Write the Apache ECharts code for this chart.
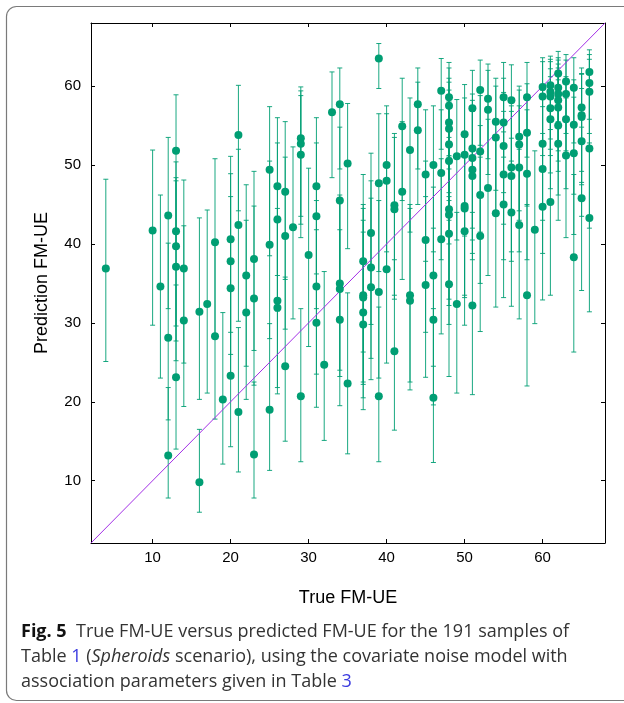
<!DOCTYPE html>
<html>
<head>
<meta charset="utf-8">
<script src="https://cdn.jsdelivr.net/npm/echarts@6/dist/echarts.min.js"></script>
<style>
html,body{margin:0;padding:0;background:#fff;}
#chart{width:624px;height:703px;}
</style>
</head>
<body>
<div id="chart"></div>
<script>
// True FM-UE (x), predicted FM-UE (y), lower and upper ends of the error bars
var trueFM = [
 4,10,11,12,12,12,13,13,13,13,13,14,14,16,16,17,18,18,19,
 20,20,20,20,21,21,21,22,22,23,23,23,25,25,25,26,26,26,26,27,27,27,28,
 29,29,29,29,30,31,31,31,31,32,33,34,34,34,34,34,35,35,
 37,37,37,37,37,38,38,38,39,39,39,39,40,40,40,41,41,41,42,42,43,43,43,44,44,
 45,45,45,46,46,46,46,47,47,47,48,48,48,48,48,48,48,48,48,48,49,49,
 50,50,50,50,50,51,51,51,51,51,51,52,52,52,52,53,53,53,54,54,54,
 55,55,55,55,55,56,56,56,56,57,57,57,57,58,58,58,58,59,
 60,60,60,60,60,61,61,61,61,61,61,62,62,62,62,62,62,62,
 63,63,63,63,64,64,64,64,65,65,65,65,65,66,66,66,66,66
];
var predFM = [
 36.9,41.7,34.6,43.6,28.1,13.2,51.8,41.6,39.7,37.1,23.1,36.9,30.3,31.4,9.8,32.4,40.2,28.3,20.3,
 40.6,37.8,34.4,23.3,53.8,42.4,18.7,36.0,31.3,38.1,33.1,13.3,49.4,39.9,19.0,47.3,43.1,32.8,31.9,46.6,41.0,24.5,42.1,
 53.4,52.7,51.3,20.7,38.6,47.3,43.5,34.6,30.0,24.7,56.7,57.7,45.5,35.0,34.3,30.4,50.2,22.3,
 37.8,33.5,33.2,31.3,29.8,41.4,37.0,34.5,63.5,47.7,33.9,20.7,50.0,48.0,36.8,44.9,44.4,26.4,54.9,46.6,51.9,33.5,32.8,57.7,54.4,
 48.8,40.5,34.8,50.0,36.0,30.4,20.5,59.4,49.0,40.6,58.6,57.5,55.4,54.6,52.6,50.5,44.4,43.7,41.3,34.9,51.1,32.4,
 53.9,51.3,44.8,44.5,41.6,57.2,52.1,50.9,49.4,48.6,32.2,59.5,51.7,46.2,41.0,58.4,57.0,47.1,55.5,53.5,43.9,
 58.6,55.4,52.4,48.8,45.0,58.2,49.7,48.6,44.0,53.6,52.6,49.7,42.4,58.6,54.1,48.9,33.5,41.8,
 59.9,58.7,52.7,49.5,44.7,60.1,59.3,58.7,57.2,55.8,45.3,61.6,59.8,59.0,58.2,57.3,55.0,52.7,
 60.6,59.0,55.8,51.2,59.8,55.1,51.5,38.3,57.3,56.3,56.1,53.0,45.8,61.8,60.4,59.3,52.1,43.3
];
var lowerFM = [
 25.1,29.7,23.0,31.8,17.7,7.8,40.0,29.6,27.7,25.2,14.0,24.9,19.4,20.3,6.0,21.1,28.5,17.8,12.1,
 28.8,26.0,23.5,14.3,44.2,30.2,11.1,24.5,20.3,26.5,22.1,7.8,38.5,28.0,11.3,36.0,31.5,21.8,21.0,35.5,29.2,15.0,30.5,
 43.5,42.5,40.8,12.4,27.0,36.2,31.8,23.5,19.3,15.1,48.4,49.5,34.0,24.0,23.2,19.5,39.4,13.4,
 26.3,22.5,22.2,20.5,19.0,29.8,25.5,22.8,59.7,36.5,23.0,12.4,39.0,37.0,24.9,33.5,33.0,16.4,45.5,35.5,41.5,22.5,21.5,49.5,45.0,
 37.8,28.8,23.1,39.0,24.5,19.6,12.3,52.0,38.0,28.6,51.0,49.5,46.5,45.5,43.0,40.0,33.0,32.2,29.8,23.2,40.5,21.1,
 44.5,41.0,33.5,33.2,29.7,49.0,42.0,40.5,38.8,38.0,20.9,52.5,41.5,35.0,28.9,50.8,48.8,36.0,46.8,44.0,32.0,
 51.0,46.5,42.5,38.0,33.2,50.5,39.0,37.8,32.1,44.2,43.0,39.0,30.5,51.0,44.8,38.0,22.0,29.9,
 53.0,51.2,43.0,38.8,32.9,53.3,52.0,51.2,49.0,47.0,33.5,55.5,52.8,51.8,50.5,49.2,46.2,43.0,
 54.0,51.8,47.0,40.8,52.8,46.3,41.2,26.3,49.2,47.8,47.5,43.5,34.1,55.8,54.0,52.0,42.0,31.4
];
var upperFM = [
 48.2,51.9,46.2,53.5,40.1,21.8,58.9,50.4,48.4,48.0,34.8,48.1,42.3,43.3,16.5,44.3,50.8,40.0,31.3,
 51.1,48.9,46.0,34.5,60.1,52.0,29.4,47.5,43.0,49.2,44.8,22.5,57.4,50.5,29.9,56.0,52.8,44.5,43.5,55.5,51.0,35.8,52.3,
 59.9,59.4,58.8,31.8,49.6,56.0,52.8,45.5,41.8,36.5,61.8,62.3,54.8,46.2,45.3,41.8,57.8,33.8,
 48.8,45.0,44.5,43.0,41.5,51.5,48.0,45.8,65.4,56.5,45.5,32.0,57.5,56.5,47.8,54.0,53.5,38.0,61.0,55.5,58.5,45.0,44.5,62.3,60.5,
 57.0,50.5,46.0,57.5,47.2,42.0,31.8,63.5,57.0,50.8,63.0,62.3,61.0,60.5,59.5,58.0,53.5,53.0,51.2,46.0,58.3,44.0,
 60.2,58.5,54.0,53.8,51.5,62.0,59.0,58.2,57.3,56.8,44.0,63.3,58.8,55.0,51.0,62.8,62.0,55.8,61.0,60.0,53.2,
 63.0,61.0,59.2,56.8,54.2,62.7,57.5,56.8,53.4,60.0,59.5,57.5,52.0,63.0,60.3,57.0,45.0,51.8,
 63.6,63.1,59.5,57.4,54.0,63.8,63.4,63.1,62.2,61.2,54.5,64.4,63.6,63.3,62.8,62.3,60.8,59.5,
 64.0,63.3,61.2,58.5,63.6,60.8,58.6,48.8,62.3,61.6,61.5,59.7,54.8,64.6,64.0,63.4,59.0,52.8
];
var tickValues = [10, 20, 30, 40, 50, 60];
var axisMin = 2.1, axisMax = 68;
var diagonal = [[2.1, 2.1], [68, 68]];

var xLabel = 'True FM-UE';
var yLabel = 'Prediction FM-UE';

var GREEN = '#009e73';
var points = [], bars = [];
for (var i = 0; i < trueFM.length; i++) {
  points.push([trueFM[i], predFM[i]]);
  bars.push([trueFM[i], lowerFM[i], upperFM[i]]);
}

var chart = echarts.init(document.getElementById('chart'), null, {renderer: 'canvas'});
var axisFont = 'Liberation Sans, Arial, Helvetica, sans-serif';
var capFont = '"Open Sans", "Noto Sans", sans-serif';

function xAxisDef(pos, isMain) {
  return {
    type: 'value', position: pos, min: axisMin, max: axisMax,
    axisLine: {show: true, onZero: false, lineStyle: {color: '#000', width: 1}},
    axisTick: {show: true, inside: true, length: 4, customValues: tickValues, lineStyle: {color: '#000', width: 1}},
    axisLabel: {show: isMain, customValues: tickValues, fontSize: 15, color: '#000', margin: 7, fontFamily: axisFont},
    splitLine: {show: false},
    name: isMain ? xLabel : '', nameLocation: 'middle', nameGap: 46,
    nameTextStyle: {fontSize: 18, color: '#000', fontFamily: axisFont}
  };
}
function yAxisDef(pos, isMain) {
  return {
    type: 'value', position: pos, min: axisMin, max: axisMax,
    axisLine: {show: true, onZero: false, lineStyle: {color: '#000', width: 1}},
    axisTick: {show: true, inside: true, length: 4, customValues: tickValues, lineStyle: {color: '#000', width: 1}},
    axisLabel: {show: isMain, customValues: tickValues, fontSize: 15, color: '#000', margin: 10, fontFamily: axisFont},
    splitLine: {show: false},
    name: isMain ? yLabel : '', nameLocation: 'middle', nameGap: 40,
    nameTextStyle: {fontSize: 18, color: '#000', fontFamily: axisFont}
  };
}

var option = {
  backgroundColor: '#fff',
  animation: false,
  grid: {left: 91, top: 23, right: 19, bottom: 160, containLabel: false},
  xAxis: [xAxisDef('bottom', true), xAxisDef('top', false)],
  yAxis: [yAxisDef('left', true), yAxisDef('right', false)],
  graphic: [
    {
      type: 'rect', silent: true, z: 0,
      shape: {x: 6.5, y: 6.5, width: 640, height: 694, r: 10},
      style: {fill: 'none', stroke: '#7a7a7a', lineWidth: 1.2}
    },
    {
      type: 'text', left: 21, top: 619, silent: true,
      style: {
        text: '{b|Fig. 5}  True FM-UE versus predicted FM-UE for the 191 samples of\nTable {l|1} ({i|Spheroids} scenario), using the covariate noise model with\nassociation parameters given in Table {l|3}',
        font: '18px ' + capFont,
        fill: '#333',
        lineHeight: 25,
        rich: {
          b: {fontWeight: 'bold', fontSize: 18, fill: '#111', fontFamily: capFont, lineHeight: 25},
          i: {fontStyle: 'italic', fontSize: 18, fill: '#333', fontFamily: capFont, lineHeight: 25},
          l: {fontSize: 18, fill: '#3a3adf', fontFamily: capFont, lineHeight: 25}
        }
      }
    }
  ],
  series: [
    {
      type: 'custom', xAxisIndex: 0, yAxisIndex: 0, z: 2,
      encode: {x: 0, y: [1, 2]},
      data: bars,
      clip: true,
      renderItem: function (params, api) {
        var x = api.value(0), lo = api.value(1), hi = api.value(2);
        var pt = api.coord([x, hi]);
        var pb = api.coord([x, lo]);
        var w = 2.5;
        var st = {stroke: GREEN, lineWidth: 1, opacity: 0.9};
        return {
          type: 'group',
          children: [
            {type: 'line', shape: {x1: pt[0], y1: pt[1], x2: pb[0], y2: pb[1]}, style: st},
            {type: 'line', shape: {x1: pt[0] - w, y1: pt[1], x2: pt[0] + w, y2: pt[1]}, style: st},
            {type: 'line', shape: {x1: pb[0] - w, y1: pb[1], x2: pb[0] + w, y2: pb[1]}, style: st}
          ]
        };
      }
    },
    {
      type: 'line', xAxisIndex: 0, yAxisIndex: 0, z: 3,
      data: diagonal, symbol: 'none', silent: true,
      lineStyle: {color: '#a22ee6', width: 1}
    },
    {
      type: 'scatter', xAxisIndex: 0, yAxisIndex: 0, z: 4,
      data: points, symbol: 'circle', symbolSize: 8,
      itemStyle: {color: GREEN, opacity: 1}
    }
  ]
};
chart.setOption(option);
</script>
</body>
</html>
